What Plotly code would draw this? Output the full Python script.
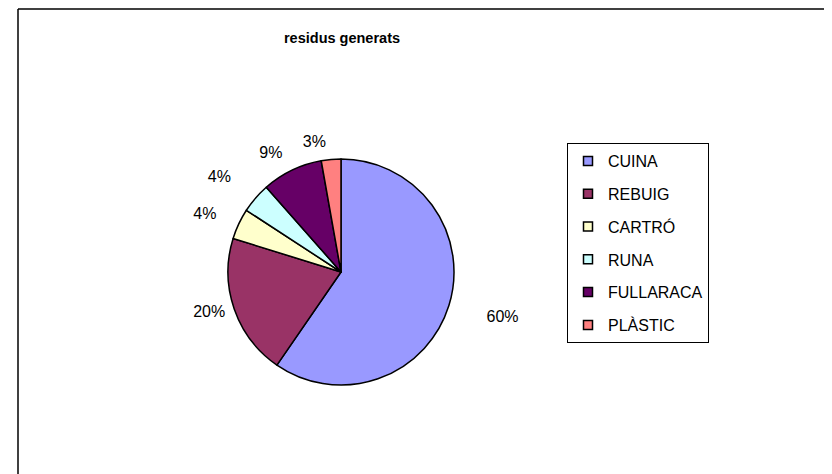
import plotly.graph_objects as go

categories = ["CUINA", "REBUIG", "CARTRÓ", "RUNA", "FULLARACA", "PLÀSTIC"]
values = [59.6, 20.2, 4.4, 4.3, 8.7, 2.8]
colors = ["#9999FF", "#993366", "#FFFFCC", "#CCFFFF", "#660066", "#FF8080"]
title_text = "residus generats"

W, H = 832, 474
OFF = 8  # page body margin in the screenshot
cx, cy, r = 341 - OFF, 272 - OFF, 113
label_gap = [35, 5, 20, 27, 12, 10]  # extra radial distance of each outside label
FONT = "Liberation Sans, Arial"


def dom(rad):
    return dict(x=[(cx - rad) / W, (cx + rad) / W], y=[(H - cy - rad) / H, (H - cy + rad) / H])


fig = go.Figure()
# visible pie
fig.add_trace(go.Pie(
    labels=categories, values=values, sort=False, direction="clockwise", rotation=0,
    marker=dict(colors=colors, line=dict(color="black", width=1.5)),
    textinfo="none", showlegend=False, hoverinfo="label+percent",
    domain=dom(r),
))
# transparent pies, each carrying one outside percentage label at its own distance
for i in range(len(values)):
    tmpl = ["%{percent:.0%}" if j == i else "" for j in range(len(values))]
    fig.add_trace(go.Pie(
        labels=categories, values=values, sort=False, direction="clockwise", rotation=0,
        marker=dict(colors=["rgba(0,0,0,0)"] * len(values), line=dict(width=0)),
        textposition="outside", texttemplate=tmpl,
        outsidetextfont=dict(family=FONT, size=16, color="black"),
        showlegend=False, hoverinfo="skip",
        domain=dom(r + label_gap[i]),
    ))
for c, col in zip(categories, colors):
    fig.add_trace(go.Scatter(
        x=[None], y=[None], mode="markers", name=c, legendgroup=c,
        marker=dict(symbol="square", size=9, color=col, line=dict(color="black", width=1.5)),
    ))

fig.update_layout(
    width=W, height=H, margin=dict(l=0, r=0, t=0, b=0),
    paper_bgcolor="white", plot_bgcolor="white",
    xaxis=dict(visible=False), yaxis=dict(visible=False),
    title=dict(text="<b>" + title_text + "</b>", x=(342 - OFF) / W, xanchor="center",
               y=1 - (38 - OFF) / H, yanchor="middle",
               font=dict(family=FONT, size=14.5, color="black")),
    legend=dict(x=(567 - OFF) / W, y=1 - (143 - OFF) / H, xanchor="left", yanchor="top",
                bordercolor="black", borderwidth=1, bgcolor="white",
                font=dict(family=FONT, size=16, color="black"),
                tracegroupgap=9, itemwidth=30),
    shapes=[
        dict(type="line", xref="paper", yref="paper", x0=(18 - OFF) / W, x1=(18 - OFF) / W, y0=-0.1, y1=1 - 1 / H,
             line=dict(color="black", width=1.5)),
        dict(type="line", xref="paper", yref="paper", x0=(18 - OFF) / W, x1=1.1, y0=1 - 1 / H, y1=1 - 1 / H,
             line=dict(color="black", width=1.5)),
    ],
    showlegend=True,
)
fig.write_html("out.html")
